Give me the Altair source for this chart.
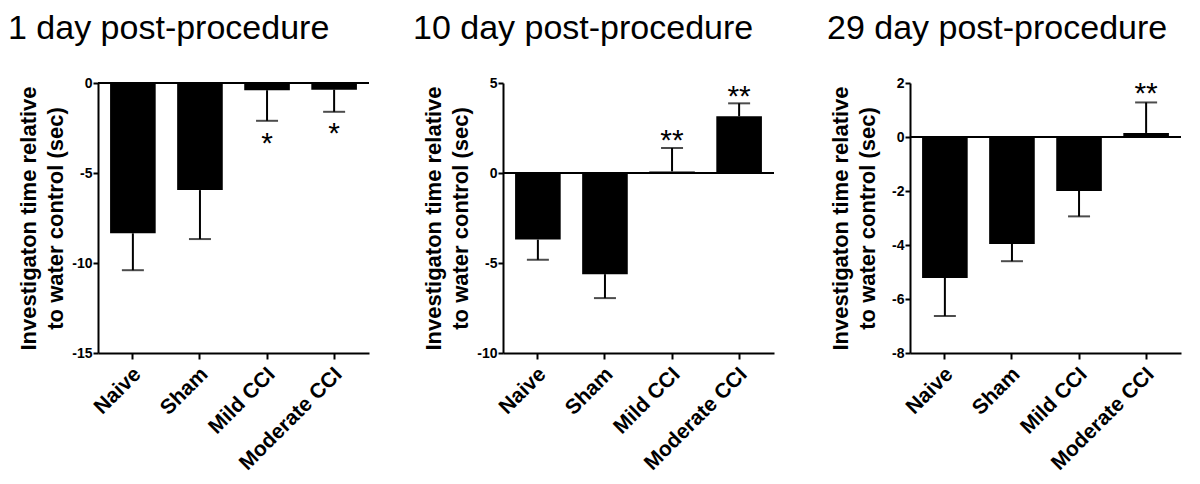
import altair as alt
import pandas as pd

groups = ["Naive", "Sham", "Mild CCI", "Moderate CCI"]

titles = ["1 day post-procedure", "10 day post-procedure", "29 day post-procedure"]
y_title = ["Investigaton time relative", "to water control (sec)"]

day1_mean = [-8.35, -5.95, -0.4, -0.37]
day1_err = [-10.4, -8.67, -2.1, -1.6]
day1_star = ["", "", "*", "*"]
day1_star_y = [None, None, -2.94, -2.39]

day10_mean = [-3.7, -5.62, 0.09, 3.15]
day10_err = [-4.82, -6.95, 1.39, 3.87]
day10_star = ["", "", "**", "**"]
day10_star_y = [None, None, 2.22, 4.65]

day29_mean = [-5.22, -3.96, -2.0, 0.15]
day29_err = [-6.63, -4.6, -2.94, 1.28]
day29_star = ["", "", "", "**"]
day29_star_y = [None, None, None, 1.88]

y_domains = [[-15, 0], [-10, 5], [-8, 2]]
y_ticks = [[-15, -10, -5, 0], [-10, -5, 0, 5], [-8, -6, -4, -2, 0, 2]]

FONT = "Liberation Sans"


def panel(title, mean, err, star, star_y, dom, ticks, title_dx):
    df = pd.DataFrame({"group": groups, "mean": mean, "err": err,
                       "star": star, "star_y": star_y})
    x = alt.X("group:N", sort=groups,
              scale=alt.Scale(paddingInner=0.32, paddingOuter=0.18),
              axis=alt.Axis(title=None, labelAngle=-45, labelFontSize=21,
                            labelFontWeight="bold", labelColor="black",
                            labelAlign="right", labelBaseline="top",
                            labelOffset=-3,
                            tickSize=6, tickWidth=2, tickColor="black",
                            domainWidth=2, domainColor="black",
                            labelPadding=4))
    yscale = alt.Scale(domain=dom, nice=False, zero=False)
    y = alt.Y("mean:Q", scale=yscale,
              axis=alt.Axis(values=ticks, title=y_title, titleFontSize=22,
                            titleFontWeight="bold", titleColor="black",
                            titleX=-70, titleY=135, titleAngle=-90,
                            titleAlign="center", titleBaseline="middle",
                            titleLineHeight=27,
                            labelFontSize=14, labelFontWeight="bold",
                            labelColor="black", labelPadding=1,
                            labelExpr="'' + datum.value",
                            tickSize=5, tickWidth=2, tickColor="black",
                            domainWidth=2, domainColor="black", grid=False))
    base = alt.Chart(df)
    bars = base.mark_bar(color="black").encode(x=x, y=y)
    zero = base.mark_rule(color="black", strokeWidth=2).encode(y=alt.datum(0))
    errs = base.mark_rule(color="black", strokeWidth=2).encode(
        x=alt.X("group:N", sort=groups), y=alt.Y("mean:Q"), y2="err:Q")
    caps = base.mark_tick(color="black", orient="horizontal", size=22,
                          thickness=2).encode(
        x=alt.X("group:N", sort=groups), y=alt.Y("err:Q"))
    stars = base.transform_filter("datum.star != ''").mark_text(
        fontSize=30, baseline="alphabetic", dy=17, color="black",
        font=FONT).encode(
        x=alt.X("group:N", sort=groups), y=alt.Y("star_y:Q"), text="star:N")
    return alt.layer(bars, zero, errs, caps, stars).properties(
        width=271, height=270,
        title=alt.TitleParams(title, anchor="start", frame="group",
                              fontSize=34, fontWeight="normal", color="black",
                              font=FONT, dx=title_dx, offset=30))


p1 = panel(titles[0], day1_mean, day1_err, day1_star, day1_star_y,
           y_domains[0], y_ticks[0], -90)
p2 = panel(titles[1], day10_mean, day10_err, day10_star, day10_star_y,
           y_domains[1], y_ticks[1], -90)
p3 = panel(titles[2], day29_mean, day29_err, day29_star, day29_star_y,
           y_domains[2], y_ticks[2], -83)

inner = alt.HConcatChart(hconcat=[p1, p2], spacing=43)
chart = alt.HConcatChart(hconcat=[inner, p3], spacing=52).properties(
    padding={"left": 0, "top": 4, "right": 0, "bottom": 0}
).configure(font=FONT).configure_view(stroke=None)

chart.save("out.html", embed_options={"renderer": "svg", "actions": False})
